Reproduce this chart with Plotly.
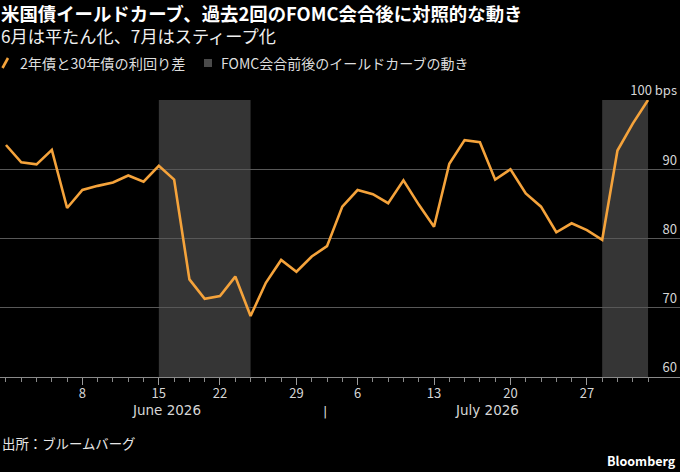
import plotly.graph_objects as go

# ---- data ----
dates = [
    "2026-06-01", "2026-06-02", "2026-06-03", "2026-06-04", "2026-06-05",
    "2026-06-08", "2026-06-09", "2026-06-10", "2026-06-11", "2026-06-12",
    "2026-06-15", "2026-06-16", "2026-06-17", "2026-06-18",
    "2026-06-22", "2026-06-23", "2026-06-24", "2026-06-25", "2026-06-26",
    "2026-06-29", "2026-06-30",
    "2026-07-01", "2026-07-02",
    "2026-07-06", "2026-07-07", "2026-07-08", "2026-07-09", "2026-07-10",
    "2026-07-13", "2026-07-14", "2026-07-15", "2026-07-16", "2026-07-17",
    "2026-07-20", "2026-07-21", "2026-07-22", "2026-07-23", "2026-07-24",
    "2026-07-27", "2026-07-28", "2026-07-29", "2026-07-30", "2026-07-31",
]
spread_bps = [
    93.5, 91.0, 90.7, 92.8, 84.4,
    87.0, 87.6, 88.1, 89.1, 88.2,
    90.5, 88.5, 74.1, 71.3,
    71.7, 74.5, 68.8, 73.6, 76.9,
    75.2, 77.4,
    78.9, 84.6,
    87.0, 86.4, 85.1, 88.4, 84.9,
    81.7, 90.8, 94.2, 93.9, 88.5,
    90.0, 86.5, 84.6, 80.9, 82.2,
    81.2, 79.8, 92.7, 96.6, 100.0,
]
fomc_windows = [("2026-06-15", "2026-06-24"), ("2026-07-28", "2026-07-31")]
day_labels = ["8", "15", "22", "29", "6", "13", "20", "27"]
day_label_dates = ["2026-06-08", "2026-06-15", "2026-06-22", "2026-06-29",
                   "2026-07-06", "2026-07-13", "2026-07-20", "2026-07-27"]
month_labels = ["June 2026", "July 2026"]
y_ticks = [60, 70, 80, 90, 100]
y_ticktext = ["60", "70", "80", "90", "100 bps"]

title = "米国債イールドカーブ、過去2回のFOMC会合後に対照的な動き"
subtitle = "6月は平たん化、7月はスティープ化"
legend_line = "2年債と30年債の利回り差"
legend_box = "FOMC会合前後のイールドカーブの動き"
source = "出所：ブルームバーグ"

# ---- styling ----
W, H = 680, 472
M_T, M_B, M_L, M_R = 100, 95, 0, 0
PLOT_H = H - M_T - M_B
ORANGE = "#f5a33b"
SHADE = "#353535"
FONT = "Noto Sans CJK JP, Noto Sans, sans-serif"
TXT = "#d6d6d6"
MONTH_LABEL_PX = [166, 487]   # horizontal centre of month labels (pixels)

idx = list(range(len(dates)))
pos = {d: i for i, d in enumerate(dates)}


def px_x(p):
    return (p - M_L) / (W - M_L - M_R)


def px_y(p):
    return (H - M_B - p) / PLOT_H


fig = go.Figure()
fig.add_trace(go.Scatter(
    x=idx, y=spread_bps, mode="lines",
    line=dict(color=ORANGE, width=2.6),
    showlegend=False, hoverinfo="skip",
))

for a, b in fomc_windows:
    fig.add_shape(type="rect", xref="x", yref="y",
                  x0=pos[a], x1=pos[b], y0=y_ticks[0], y1=y_ticks[-1],
                  fillcolor=SHADE, line_width=0, layer="below")

# major ticks: labelled Mondays + first trading day of a new month
major_vals = [pos[d] for d in day_label_dates]
major_text = list(day_labels)
month_groups = {}
for i, d in enumerate(dates):
    month_groups.setdefault(d[:7], []).append(i)
month_starts = [ids[0] for ids in month_groups.values()][1:]
for s in month_starts:
    if s not in major_vals:
        major_vals.append(s)
        major_text.append("")

annotations = []
for lab, cx in zip(month_labels, MONTH_LABEL_PX):
    annotations.append(dict(x=px_x(cx), xref="paper", y=px_y(410), yref="paper",
                            text=lab, showarrow=False,
                            font=dict(family="DejaVu Sans, sans-serif", size=13.5, color=TXT),
                            xanchor="center", yanchor="middle"))
for s in month_starts:
    annotations.append(dict(x=s - 0.12, xref="x", y=px_y(411), yref="paper",
                            text="|", showarrow=False,
                            font=dict(family="DejaVu Sans, sans-serif", size=13, color=TXT),
                            xanchor="center", yanchor="middle"))

head_text = (f"<span style='font-size:18.4px;color:#ffffff'><b>{title}</b></span>"
             f"<br>{subtitle}")
annotations += [
    dict(x=px_x(0), y=px_y(24), xref="paper", yref="paper", text=head_text,
         showarrow=False, xanchor="left", yanchor="middle", align="left",
         borderpad=0,
         font=dict(family=FONT, size=17.2, color="#f0f0f0")),
    dict(x=px_x(18), y=px_y(63), xref="paper", yref="paper", text=legend_line,
         showarrow=False, xanchor="left", yanchor="middle",
         font=dict(family=FONT, size=14.2, color="#dedede")),
    dict(x=px_x(219), y=px_y(63), xref="paper", yref="paper", text=legend_box,
         showarrow=False, xanchor="left", yanchor="middle",
         font=dict(family=FONT, size=14, color="#dedede")),
    dict(x=px_x(0), y=px_y(443), xref="paper", yref="paper", text=source,
         showarrow=False, xanchor="left", yanchor="middle",
         font=dict(family=FONT, size=13.4, color="#e6e6e6")),
    dict(x=px_x(678), y=px_y(461), xref="paper", yref="paper", text="Bloomberg",
         showarrow=False, xanchor="right", yanchor="middle",
         font=dict(family=FONT, size=12.5, color="#ffffff", weight=700)),
]

# legend icons
fig.add_shape(type="line", xref="paper", yref="paper",
              x0=px_x(2.5), y0=px_y(68), x1=px_x(8), y1=px_y(58),
              line=dict(color=ORANGE, width=2.6))
fig.add_shape(type="rect", xref="paper", yref="paper",
              x0=px_x(204), y0=px_y(67), x1=px_x(212), y1=px_y(59),
              fillcolor="#4a4a4a", line_width=0)

fig.update_layout(
    width=W, height=H,
    margin=dict(l=M_L, r=M_R, t=M_T, b=M_B, pad=0),
    paper_bgcolor="#000000", plot_bgcolor="#000000",
    font=dict(family=FONT, size=13, color=TXT),
    annotations=annotations,
    showlegend=False,
    xaxis=dict(
        range=[-0.39, 44.09],
        tickmode="array", tickvals=major_vals, ticktext=major_text,
        ticks="outside", ticklen=7, tickwidth=1, tickcolor="#9a9a9a",
        ticklabelstandoff=-3,
        minor=dict(tickmode="array", tickvals=idx, ticks="outside",
                   ticklen=4, tickwidth=1, tickcolor="#8a8a8a", showgrid=False),
        showgrid=False, zeroline=False,
        showline=True, linecolor="#8a8a8a", linewidth=1,
        tickfont=dict(family=FONT, size=13, color=TXT),
        fixedrange=True,
    ),
    yaxis=dict(
        side="right", range=[60, 100],
        tickmode="array", tickvals=y_ticks, ticktext=y_ticktext,
        ticklabelposition="inside top", ticklabeloverflow="allow",
        ticks="", showgrid=True, gridcolor="#585858", gridwidth=1,
        zeroline=False, showline=False,
        tickfont=dict(family=FONT, size=13, color=TXT),
        fixedrange=True,
    ),
)

fig.write_html(
    "out.html",
    config={"displayModeBar": False},
    post_script="document.body.style.margin='0';document.body.style.background='#000';",
)
